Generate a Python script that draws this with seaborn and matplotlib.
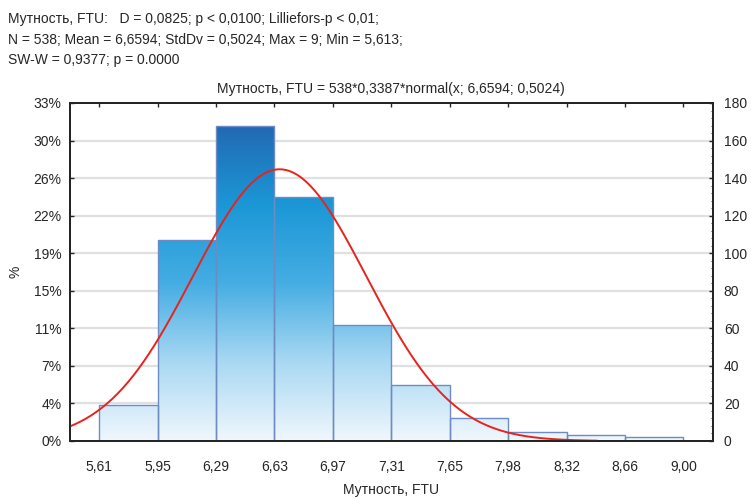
import numpy as np
import pandas as pd
import seaborn as sns
import matplotlib.pyplot as plt
from matplotlib.colors import LinearSegmentedColormap
from matplotlib.ticker import MultipleLocator

# data
bin_edges = [5.613, 5.9517, 6.2904, 6.6291, 6.9678, 7.3065, 7.6452, 7.9839, 8.3226, 8.6613, 9.0]
counts = [19, 107, 168, 130, 62, 30, 12, 5, 3, 2]
edge_labels = ["5,61", "5,95", "6,29", "6,63", "6,97", "7,31", "7,65", "7,98", "8,32", "8,66", "9,00"]
count_ticks = [0, 20, 40, 60, 80, 100, 120, 140, 160, 180]
n_total = 538
mean, sd, bin_w = 6.6594, 0.5024, 0.3387

sns.set_style("white")
plt.rcParams['font.family'] = ['Liberation Sans', 'DejaVu Sans']

centers = [(a + b) / 2 for a, b in zip(bin_edges[:-1], bin_edges[1:])]
df = pd.DataFrame({"x": centers, "n": counts})

fig = plt.figure(figsize=(7.51, 5.0), dpi=100)
ax = fig.add_axes([0.093, 0.118, 0.856, 0.676])

xlim = (bin_edges[0] - bin_w / 2, bin_edges[-1] + bin_w / 2)

# gridlines behind bars
for c in count_ticks[1:-1]:
    ax.axhline(c, color="#dde1e4", lw=1.6, zorder=0)

sns.histplot(data=df, x="x", weights="n", bins=bin_edges, ax=ax,
             color="none", edgecolor="#6d8cc4", linewidth=1.0, zorder=2)

# vertical gradient fill clipped to each bar
cmap = LinearSegmentedColormap.from_list("bl", [
    (0.0, "#f0f7fd"), (0.25, "#a9d8f3"), (0.5, "#45ade3"),
    (0.75, "#1b97d6"), (1.0, "#2269b2")])
grad = np.linspace(0, 1, 256).reshape(-1, 1)
for p in list(ax.patches):
    im = ax.imshow(grad, cmap=cmap, origin="lower", aspect="auto",
                   extent=[xlim[0], xlim[1], 0, 168], zorder=1.5)
    im.set_clip_path(p)
ax.set_xlim(*xlim)
ax.set_ylim(0, 180)

# fitted normal curve
xs = np.linspace(xlim[0], 8.5, 300)
ys = n_total * bin_w * np.exp(-0.5 * ((xs - mean) / sd) ** 2) / (sd * np.sqrt(2 * np.pi))
sns.lineplot(x=xs, y=ys, ax=ax, color="#e8231c", lw=1.4, zorder=3)

ax.set_xticks(bin_edges)
ax.set_xticklabels(edge_labels, fontsize=10)
ax.set_yticks(count_ticks)
ax.set_yticklabels([f"{round(c / n_total * 100)}%" for c in count_ticks], fontsize=10)
ax.tick_params(axis="both", direction="in", length=3, width=1, pad=6)
ax.tick_params(axis="x", top=True, pad=14)
for s in ax.spines.values():
    s.set_linewidth(1.3)
    s.set_color("black")
ax.set_xlabel("Мутность, FTU", fontsize=10, labelpad=6)
ax.set_ylabel("%", fontsize=10, labelpad=8)

ax2 = ax.twinx()
ax2.set_ylim(0, 180)
ax2.set_yticks(count_ticks)
ax2.yaxis.set_minor_locator(MultipleLocator(4))
ax2.tick_params(axis="y", direction="in", length=3, width=1, labelsize=10, pad=8)
ax2.tick_params(axis="y", which="minor", direction="in", length=1.5)
for s in ax2.spines.values():
    s.set_linewidth(1.3)

ax.set_title("Мутность, FTU = 538*0,3387*normal(x; 6,6594; 0,5024)", fontsize=10, pad=7)

fig.text(0.011, 0.975, "Мутность, FTU:   D = 0,0825; p < 0,0100; Lilliefors-p < 0,01;\n"
         "N = 538; Mean = 6,6594; StdDv = 0,5024; Max = 9; Min = 5,613;\n"
         "SW-W = 0,9377; p = 0.0000", fontsize=10, va="top", ha="left", linespacing=1.55)

fig.savefig("out.png", dpi=100)
